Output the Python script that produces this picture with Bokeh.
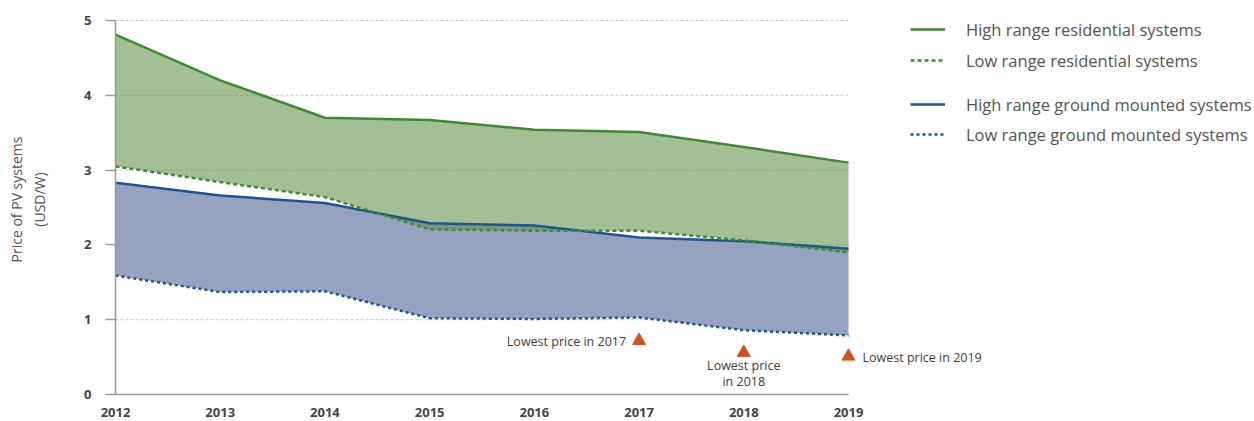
from bokeh.plotting import figure
from bokeh.models import ColumnDataSource, Legend, LegendItem, FixedTicker
from bokeh.core.properties import value
from bokeh.embed import file_html
from bokeh.resources import INLINE

years = [2012, 2013, 2014, 2015, 2016, 2017, 2018, 2019]
high_residential = [4.81, 4.20, 3.70, 3.67, 3.54, 3.51, 3.31, 3.10]
low_residential = [3.05, 2.84, 2.64, 2.21, 2.19, 2.19, 2.06, 1.90]
high_ground = [2.83, 2.66, 2.56, 2.29, 2.26, 2.10, 2.05, 1.95]
low_ground = [1.59, 1.37, 1.38, 1.02, 1.01, 1.03, 0.86, 0.79]

lowest_years = [2017, 2018, 2019]
lowest_prices = [0.72, 0.56, 0.51]
lowest_labels = ["Lowest price in 2017", "Lowest price\nin 2018", "Lowest price in 2019"]

y_ticks = [0, 1, 2, 3, 4, 5]

legend_labels = [
    "High range residential systems",
    "Low range residential systems",
    "High range ground mounted systems",
    "Low range ground mounted systems",
]

FONT = "Open Sans"
GREEN = "#3f8a34"
BLUE = "#1b5592"
ORANGE = "#d0521f"
TXT = "#555555"

# layout geometry (pixels)
FIG_W, FIG_H = 1254, 421
LEFT, TOP, BOTTOM = 115, 4, 27
PX_PER_YEAR = 733 / 7.0
PX_PER_UNIT = 374 / 5.0
frame_w = FIG_W - LEFT
frame_h = FIG_H - TOP - BOTTOM
x_end = years[0] + frame_w / PX_PER_YEAR
y_top = frame_h / PX_PER_UNIT

src = ColumnDataSource(dict(x=years, hr=high_residential, lr=low_residential,
                            hg=high_ground, lg=low_ground))

p = figure(width=FIG_W, height=FIG_H, x_range=(years[0], x_end), y_range=(0, y_top),
           output_backend="svg", toolbar_location=None,
           min_border_left=LEFT, min_border_right=0, min_border_top=TOP,
           min_border_bottom=BOTTOM)
p.outline_line_color = None

# horizontal dotted gridlines limited to the data span
gy = y_ticks[1:]
p.segment(x0=[years[0]] * len(gy), x1=[years[-1]] * len(gy), y0=gy, y1=gy,
          line_color="#c8c8c8", line_dash="3 2", line_width=1)

# areas
p.varea(x="x", y1="lg", y2="hg", source=src, fill_color="#97a1c0")
p.varea(x="x", y1="lr", y2="hr", source=src, fill_color="#65944e", fill_alpha=0.6)

# lines
r_hg = p.line(x="x", y="hg", source=src, line_color=BLUE, line_width=2.5)
r_lg = p.line(x="x", y="lg", source=src, line_color=BLUE, line_width=2.5, line_dash="3 3")
r_hr = p.line(x="x", y="hr", source=src, line_color=GREEN, line_width=2.5)
r_lr = p.line(x="x", y="lr", source=src, line_color=GREEN, line_width=2.5, line_dash="4 3")

# lowest price markers
p.scatter(x=lowest_years, y=lowest_prices, marker="triangle", size=13,
          fill_color=ORANGE, line_color=ORANGE)
p.text(x=[lowest_years[0]], y=[lowest_prices[0]], text=[lowest_labels[0]],
       x_offset=-13, y_offset=1, text_align="right", text_baseline="middle",
       text_font=value(FONT), text_font_size="12.5px", text_color="#404040")
p.text(x=[lowest_years[1]], y=[lowest_prices[1]], text=[lowest_labels[1]],
       x_offset=0, y_offset=4, text_align="center", text_baseline="top",
       text_font=value(FONT), text_font_size="12.5px", text_color="#404040",
       text_line_height=0.95)
p.text(x=[lowest_years[2]], y=[lowest_prices[2]], text=[lowest_labels[2]],
       x_offset=14, y_offset=1, text_align="left", text_baseline="middle",
       text_font=value(FONT), text_font_size="12.5px", text_color="#404040")

# axes
p.xaxis.ticker = FixedTicker(ticks=years)
p.yaxis.ticker = FixedTicker(ticks=y_ticks)
p.xaxis.bounds = (years[0], years[-1])
p.yaxis.bounds = (y_ticks[0], y_ticks[-1])
for ax in (p.xaxis[0], p.yaxis[0]):
    ax.axis_line_color = "#9a9a9a"
    ax.axis_line_width = 1.5
    ax.major_tick_line_color = "#9a9a9a"
    ax.major_tick_line_width = 1.5
    ax.minor_tick_line_color = None
    ax.major_label_text_font = FONT
    ax.major_label_text_font_size = "13px"
    ax.major_label_text_color = "#454545"
    ax.major_label_text_font_style = "bold"
p.xaxis.major_tick_out = 0
p.xaxis.major_tick_in = 0
p.xaxis.major_label_standoff = 13
p.yaxis.major_tick_out = 10
p.yaxis.major_tick_in = 0
p.yaxis.major_label_standoff = 14
p.yaxis.axis_label = "Price of PV systems\n(USD/W)"
p.yaxis.axis_label_text_font = FONT
p.yaxis.axis_label_text_font_size = "14px"
p.yaxis.axis_label_text_font_style = "normal"
p.yaxis.axis_label_text_color = TXT
p.yaxis.axis_label_standoff = 32

p.xgrid.grid_line_color = None
p.ygrid.grid_line_color = None

# legends (inside the wide frame, to the right of the data span)
def make_legend(items, loc, spacing):
    return Legend(items=items, location=loc, orientation="vertical",
                  border_line_color=None, background_fill_alpha=0,
                  padding=0, margin=0, spacing=spacing,
                  glyph_width=35, glyph_height=24,
                  label_height=24, label_standoff=21,
                  label_text_font=FONT, label_text_font_size="16.5px",
                  label_text_color=TXT)

leg1 = make_legend([LegendItem(label=legend_labels[0], renderers=[r_hr]),
                    LegendItem(label=legend_labels[1], renderers=[r_lr])], (795, 322), 7)
leg2 = make_legend([LegendItem(label=legend_labels[2], renderers=[r_hg]),
                    LegendItem(label=legend_labels[3], renderers=[r_lg])], (795, 248), 6)
p.add_layout(leg1, "center")
p.add_layout(leg2, "center")

open("out.html", "w").write(file_html(p, INLINE))
